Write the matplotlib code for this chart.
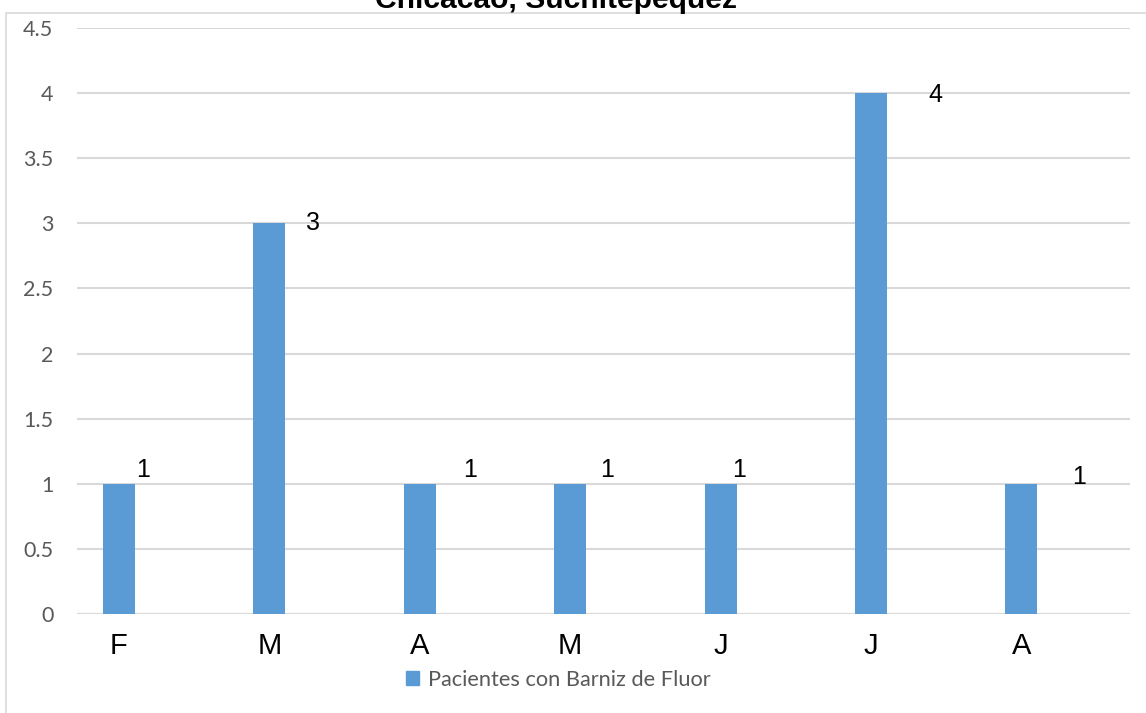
import matplotlib.pyplot as plt
from matplotlib.patches import Rectangle

months = ['F', 'M', 'A', 'M', 'J', 'J', 'A']
pacientes = [1, 3, 1, 1, 1, 4, 1]
series_name = 'Pacientes con Barniz de Fluor'
title = 'Chicacao, Suchitepequez'
yticks = [0, 0.5, 1, 1.5, 2, 2.5, 3, 3.5, 4, 4.5]
ytick_labels = ['0', '0.5', '1', '1.5', '2', '2.5', '3', '3.5', '4', '4.5']

# data label offsets (pixels) as dragged in the original chart
label_dx = [24, 44, 50, 37, 18, 64, 58]
label_dy = [14, 0, 14, 14, 14, -2, 7]

bar_color = '#5B9BD5'
grid_color = '#D9D9D9'

fig = plt.figure(figsize=(11.46, 7.13), dpi=100)
ax = fig.add_axes([77 / 1146, 99 / 713, (1130 - 77) / 1146, (614 - 28) / 713])

x = list(range(len(months)))
ax.bar(x, pacientes, width=0.213, color=bar_color, zorder=3)

for i, v in enumerate(pacientes):
    ax.annotate(str(v), xy=(i, v), xytext=(label_dx[i] * 0.72, label_dy[i] * 0.72),
                textcoords='offset points', ha='center', va='center',
                fontsize=18, family='Liberation Sans', color='black', zorder=4)

ax.set_ylim(0, 4.5)
ax.set_xlim(-0.279, 6.722)
ax.set_yticks(yticks)
ax.set_yticklabels(ytick_labels, family='Lato', fontsize=15.5, color='#595959')
ax.set_xticks(x)
ax.set_xticklabels(months, family='Liberation Sans', fontsize=21, color='black')
ax.tick_params(axis='y', length=0, pad=17)
ax.tick_params(axis='x', length=0, pad=13)
ax.yaxis.grid(True, color=grid_color, linewidth=1.5, zorder=0)
ax.set_axisbelow(True)
for s in ax.spines.values():
    s.set_visible(False)
ax.axhline(0, color=grid_color, linewidth=1.5, zorder=1)

# chart area border
fig.patches.append(Rectangle((6 / 1146, -0.1), 1.2, (713 - 13) / 713 + 0.1,
                             transform=fig.transFigure, fill=False,
                             edgecolor=grid_color, linewidth=1.2))

fig.text(556 / 1146, (713 - 8) / 713, title, ha='center', va='baseline',
         fontsize=21.6, fontweight='bold', family='Liberation Sans')

leg = fig.legend([plt.Rectangle((0, 0), 1, 1, color=bar_color)], [series_name],
                 loc='center', bbox_to_anchor=(558 / 1146, 33 / 713), frameon=False,
                 prop={'family': 'Lato', 'size': 15.7}, handlelength=0.6, handleheight=0.6,
                 handletextpad=0.4)
for t in leg.get_texts():
    t.set_color('#595959')

fig.savefig('out.png', dpi=100)
